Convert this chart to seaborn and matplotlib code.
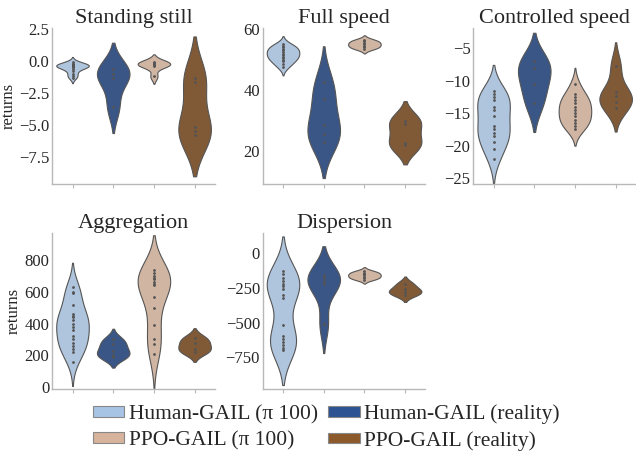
import matplotlib
matplotlib.use("Agg")
import matplotlib.pyplot as plt
import matplotlib.ticker as mticker
from matplotlib.patches import Patch
import seaborn as sns
import pandas as pd

methods = ["Human-GAIL (π 100)", "Human-GAIL (reality)", "PPO-GAIL (π 100)", "PPO-GAIL (reality)"]
colors = ["#a7c4e5", "#2d5393", "#d8b39b", "#8c5a2a"]
titles = ["Standing still", "Full speed", "Controlled speed", "Aggregation", "Dispersion"]

standing_still = [
    [-0.1, -0.2, -0.25, -0.3, -0.3, -0.35, -0.4, -0.4, -0.45, -0.5, -0.6, -0.8, -1.0, -1.2, -1.3],
    [-0.6, -1.0, -1.3, -3.6],
    [-0.05, -0.15, -0.25, -0.3, -0.35, -1.2],
    [-1.3, -1.6, -5.2, -5.5, -5.8],
]
full_speed = [
    [47.5, 48.5, 49.5, 50.0, 50.5, 51.0, 51.5, 52.0, 52.5, 53.0, 53.5, 54.0, 54.5, 55.0],
    [42.5, 37.0, 28.5, 25.5, 23.0],
    [53.5, 54.0, 54.5, 55.0, 55.5, 56.0, 56.5],
    [30.0, 29.0, 22.5, 22.0],
]
controlled_speed = [
    [-11.5, -12.0, -12.5, -13.0, -14.0, -14.5, -15.5, -17.0, -17.5, -18.0, -18.5, -19.5, -20.5, -22.0],
    [-7.0, -8.0, -10.5, -13.5],
    [-10.5, -12.0, -12.5, -13.0, -13.5, -14.0, -14.5, -15.0, -15.5, -16.0, -16.5, -17.0, -17.5],
    [-7.7, -11.8, -12.3, -13.3, -14.2],
]
aggregation = [
    [630, 600, 590, 520, 460, 450, 440, 420, 400, 380, 360, 320, 300, 280, 260, 240, 220, 160],
    [300, 270, 230, 200, 190],
    [740, 720, 700, 690, 680, 660, 650, 640, 570, 500, 390, 300, 270, 210],
    [310, 280, 240, 220],
]
dispersion = [
    [-130, -150, -180, -200, -220, -240, -260, -300, -320, -520, -600, -620, -640, -660, -680, -700],
    [-160, -180, -200, -220, -510],
    [-130, -140, -150, -160, -170, -180, -190],
    [-220, -260, -280, -300],
]
all_data = [standing_still, full_speed, controlled_speed, aggregation, dispersion]
tick_steps = [2.5, 20, 5, 200, 250]
y_limits = [(-9.63, 2.58), (9.2, 60.3), (-25.9, -1.9), (-12.5, 969), (-979, 143)]

sns.set_theme(style="white")
plt.rcParams["font.family"] = ["Liberation Serif", "DejaVu Serif"]
plt.rcParams["mathtext.fontset"] = "stix"

fig, axes = plt.subplots(2, 3, figsize=(6.36, 4.55), dpi=100)
fig.subplots_adjust(left=0.082, right=1.0, top=0.938, bottom=0.145, wspace=0.293, hspace=0.317)
axes = axes.ravel()

for i, (title, groups) in enumerate(zip(titles, all_data)):
    ax = axes[i]
    rows = []
    for m, vals in zip(methods, groups):
        for v in vals:
            rows.append({"method": m, "returns": v})
    df = pd.DataFrame(rows)
    sns.violinplot(data=df, x="method", y="returns", hue="method", order=methods,
                   hue_order=methods, palette=colors, density_norm="width",
                   inner="point", linewidth=0.8, linecolor="#555555",
                   inner_kws={"s": 1.0, "color": "#222222"}, legend=False, ax=ax)
    ax.set_title(title, fontsize=16, pad=3)
    ax.set_xlabel("")
    ax.set_xticklabels([])
    ax.set_ylim(*y_limits[i])
    ax.yaxis.set_major_locator(mticker.MultipleLocator(tick_steps[i]))
    if i in (0, 3):
        ax.set_ylabel("returns", fontsize=12, labelpad=2)
    else:
        ax.set_ylabel("")
    for s in ["top", "right"]:
        ax.spines[s].set_visible(False)
    for s in ["left", "bottom"]:
        ax.spines[s].set_color("#b8b8b8")
        ax.spines[s].set_linewidth(1.0)
    ax.tick_params(axis="x", length=3, width=0.8, color="#b8b8b8", bottom=True)
    ax.tick_params(axis="y", labelsize=12, length=0, pad=2)

axes[5].axis("off")

handles = [Patch(facecolor=c, edgecolor="#888888", linewidth=0.8) for c in colors]
order = [0, 2, 1, 3]
fig.legend([handles[k] for k in order], [methods[k] for k in order], loc="center",
           bbox_to_anchor=(0.513, 0.06), ncol=2, frameon=False, fontsize=15.5,
           handlelength=1.45, handleheight=0.4, handletextpad=0.2,
           columnspacing=0.5, labelspacing=0.3)

fig.savefig("out.png", dpi=100)
